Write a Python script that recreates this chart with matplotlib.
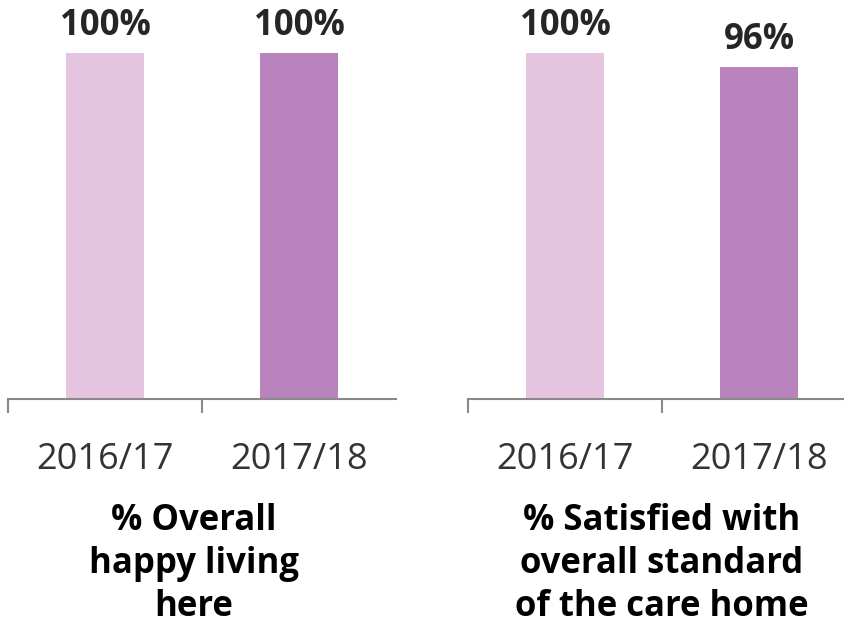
import matplotlib
matplotlib.use("Agg")
import matplotlib.pyplot as plt

years = ["2016/17", "2017/18"]
happy = [100, 100]
satisfied = [100, 96]
titles = ["% Overall\nhappy living\nhere", "% Satisfied with\noverall standard\nof the care home"]
colors = ["#E4C4DE", "#B983BE"]

plt.rcParams["font.family"] = ["Open Sans", "DejaVu Sans"]

fig = plt.figure(figsize=(8.45, 6.27), dpi=100)
panels = [(happy, 8, titles[0], 194), (satisfied, 468, titles[1], 662)]

for vals, x0, title, tx in panels:
    ax = fig.add_axes([x0 / 845, 1 - 399 / 627, 388 / 845, 346 / 627])
    ax.bar(range(len(years)), vals, width=0.4, color=colors)
    ax.set_xlim(-0.5, 1.5)
    ax.set_ylim(0, 100)
    for s in ["top", "right", "left"]:
        ax.spines[s].set_visible(False)
    ax.spines["bottom"].set_color("#898989")
    ax.spines["bottom"].set_linewidth(1.5)
    ax.set_yticks([])
    ax.set_xticks([-0.5, 0.5], minor=False)
    ax.set_xticklabels([])
    ax.tick_params(axis="x", which="major", length=10, width=1.5, color="#898989")
    ax.set_xticks([0, 1], minor=True)
    ax.set_xticklabels(years, minor=True, fontsize=26, color="#333333")
    ax.tick_params(axis="x", which="minor", length=0, pad=31)
    for i, v in enumerate(vals):
        ax.text(i, v + 2.5, f"{v}%", ha="center", va="bottom", fontsize=25,
                fontweight="bold", color="#262626")
    fig.text(tx / 845, 1 - 564 / 627, title, ha="center", va="center",
             fontsize=25, fontweight="bold", color="#000000", linespacing=1.27)

fig.savefig("out.png", dpi=100)
